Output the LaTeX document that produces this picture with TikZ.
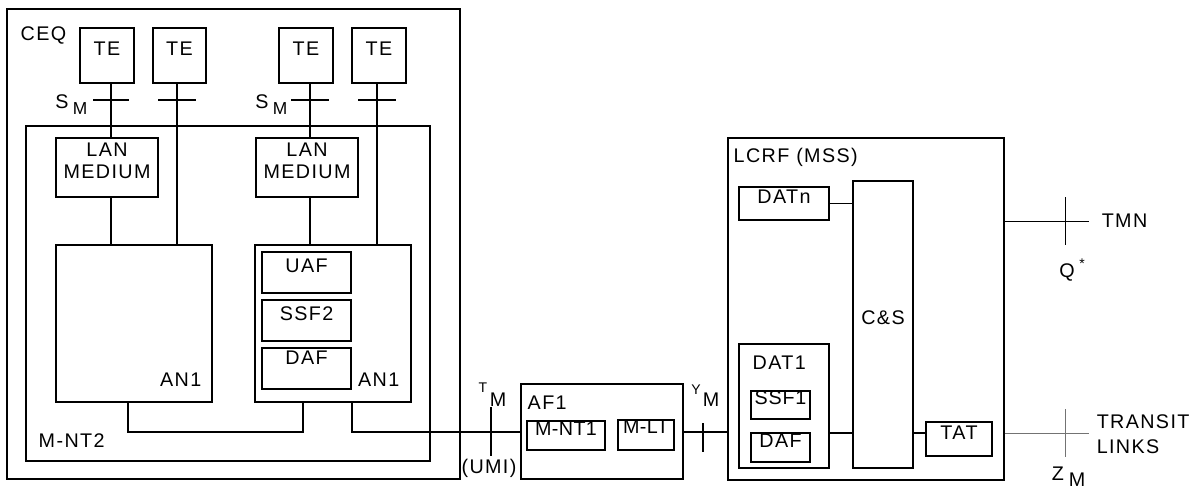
\documentclass[tikz,border=0pt]{standalone}
\usepackage{fontspec}
\setmainfont{Liberation Sans}[LetterSpace=7]
\usetikzlibrary{fit}
\newcommand\bx[6]{\node[bx, fit={(#2,#3) (#4,#5)}] (#1) {#6};}
\newcommand\tight{\addfontfeature{LetterSpace=2}}
\begin{document}
\begin{tikzpicture}[x=0.75pt,y=-0.75pt, line width=1.1pt,
  every node/.style={font=\fontsize{14.8}{17}\selectfont},
  bx/.style={draw, inner sep=0pt, align=center},
  lbl/.style={inner sep=0pt},
  small/.style={inner sep=0pt, font=\fontsize{10.5}{12}\selectfont},
  sub/.style={inner sep=0pt, font=\fontsize{13}{15}\selectfont},
  tick/.style={line width=1.1pt},
  thinl/.style={line width=0.7pt}]
\useasboundingbox (0,0) rectangle (1191,490);
% boxes
\bx{ceq}{7}{9}{460}{479}{}
\bx{mnt2}{26}{126}{430}{461}{}
\bx{te1}{80}{28}{134}{83}{TE}
\bx{te2}{153}{28}{206}{83}{TE}
\bx{te3}{279}{28}{333}{83}{TE}
\bx{te4}{352}{28}{406}{83}{TE}
\bx{lan1}{56}{138}{158}{197}{LAN\\MEDIUM}
\bx{lan2}{256}{138}{358}{197}{LAN\\MEDIUM}
\bx{ana}{56}{245}{212}{402}{}
\bx{anb}{255}{245}{411}{402}{}
\bx{uaf}{262}{252}{351}{293}{UAF}
\bx{ssf2}{262}{300}{351}{341}{SSF2}
\bx{daf2}{262}{348}{351}{389}{\raisebox{3pt}{DAF}}
\bx{af1}{521}{384}{683}{479}{}
\bx{mnt1}{527}{421}{605}{450}{\tight M-NT1}
\bx{mlt}{618}{420}{674}{450}{\tight\raisebox{1.5pt}{M-LT}}
\bx{lcrf}{728}{138}{1004}{480}{}
\bx{datn}{739}{187}{829}{220}{DATn}
\bx{cs}{853}{181}{913}{468}{C\&S}
\bx{dat1}{739}{344}{829}{468}{}
\bx{ssf1}{751}{391}{810}{419}{{\addfontfeature{LetterSpace=4}SSF1}}
\bx{daf1}{751}{433}{810}{462}{DAF}
\bx{tat}{926}{422}{992}{456}{TAT}
% reference coordinates
\coordinate (vA) at (111,0);
\coordinate (vB) at (177,0);
\coordinate (vC) at (310,0);
\coordinate (vD) at (377,0);
\coordinate (vE) at (128,0);
\coordinate (vF) at (303,0);
\coordinate (vG) at (352,0);
\coordinate (hB) at (0,432);
\coordinate (hR) at (0,433);
\coordinate (tmnend) at (1089,221);
\coordinate (trend) at (1089,433);
% connectors
\draw (te1.south -| vA) -- (lan1.north -| vA);
\draw (lan1.south -| vA) -- (ana.north -| vA);
\draw (te2.south -| vB) -- (ana.north -| vB);
\draw (te3.south -| vC) -- (lan2.north -| vC);
\draw (lan2.south -| vC) -- (anb.north -| vC);
\draw (te4.south -| vD) -- (anb.north -| vD);
\draw (ana.south -| vE) -- (vE |- hB) -- (vF |- hB) -- (anb.south -| vF);
\draw (anb.south -| vG) -- (vG |- hB) -- (af1.west |- hB);
\draw (af1.east |- hB) -- (lcrf.west |- hB);
\draw (datn.east) -- (cs.west |- datn.east);
\draw (dat1.east |- hR) -- (cs.west |- hR);
\draw (cs.east |- hR) -- (tat.west |- hR);
\draw[thinl] (lcrf.east |- tmnend) -- (tmnend);
\draw[thinl, black!55] (lcrf.east |- trend) -- (trend);
% reference point ticks
\draw[tick] (93,100) -- (129,100);
\draw[tick] (158,100) -- (196,100);
\draw[tick] (291,100) -- (329,100);
\draw[tick] (358,100) -- (396,100);
\draw[tick] (491,407) -- (491,456);
\draw[tick] (703,423) -- (703,452);
\draw[thinl] (1065,197) -- (1065,245);
\draw[thinl, black!55] (1065,409) -- (1065,457);
% labels
\node[lbl, anchor=west] (lceq) at (20,35) {CEQ};
\node[lbl] (s1) at (62,102) {S};
\node[sub] (m1) at (80,109) {M};
\node[lbl] (s2) at (262,102) {S};
\node[sub] (m2) at (280,109) {M};
\node[lbl, anchor=west] (lmnt2) at (38,441) {M-NT2};
\node[lbl, anchor=east] (lan1a) at (202,380) {AN1};
\node[lbl, anchor=east] (lan1b) at (400,380) {AN1};
\node[small] (tt) at (483,388) {T};
\node[lbl] (tm) at (498,400) {M};
\node[lbl] (umi) at (489,468) {(UMI)};
\node[lbl, anchor=west] (laf1) at (527,403) {AF1};
\node[small] (yy) at (696,390) {Y};
\node[lbl] (ym) at (711,400) {M};
\node[lbl, anchor=west] (llcrf) at (733,157) {LCRF (MSS)};
\node[lbl, anchor=west] (ldat1) at (752,363) {DAT1};
\node[lbl, anchor=west] (ltmn) at (1101,221) {TMN};
\node[lbl] (lq) at (1067,272) {Q};
\node[small] (lstar) at (1082,264) {*};
\node[lbl, anchor=west] (ltr) at (1096,422) {TRANSIT};
\node[lbl, anchor=west] (llk) at (1096,447) {LINKS};
\node[lbl] (lz) at (1058,474) {Z};
\node[lbl] (lzm) at (1077,480) {M};
\end{tikzpicture}
\end{document}
